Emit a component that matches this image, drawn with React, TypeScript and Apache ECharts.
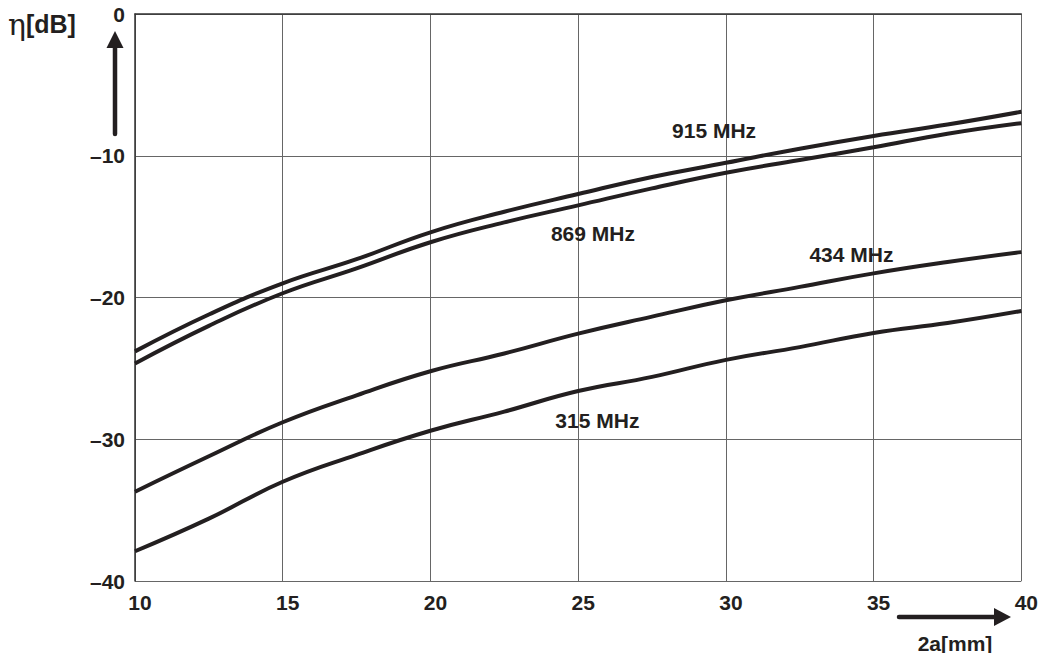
import React, { useEffect, useRef } from "react";
import * as echarts from "echarts";

const xs = [10, 12.5, 15, 17.5, 20, 22.5, 25, 27.5, 30, 32.5, 35, 37.5, 40];
const y915 = [-23.8, -21.2, -19.0, -17.3, -15.4, -13.95, -12.7, -11.5, -10.5, -9.5, -8.6, -7.8, -6.9];
const y869 = [-24.65, -22.0, -19.7, -17.95, -16.1, -14.7, -13.5, -12.3, -11.2, -10.3, -9.4, -8.45, -7.7];
const y434 = [-33.7, -31.2, -28.8, -26.9, -25.2, -23.95, -22.55, -21.35, -20.2, -19.25, -18.3, -17.5, -16.8];
const y315 = [-37.9, -35.6, -33.0, -31.1, -29.4, -28.05, -26.6, -25.6, -24.4, -23.5, -22.5, -21.8, -20.95];

const seriesNames = ["915 MHz", "869 MHz", "434 MHz", "315 MHz"];
const seriesValues = [y915, y869, y434, y315];
const labelX = [29.6, 25.5, 34.25, 25.65];
const labelY = [-8.25, -15.45, -16.95, -28.7];

const xTicks = { min: 10, max: 40, interval: 5 };
const yTicks = { min: -40, max: 0, interval: 10 };

const FONT = "'Liberation Sans', Arial, sans-serif";

export default function App() {
  const ref = useRef<HTMLDivElement>(null);
  useEffect(() => {
    if (!ref.current) return;
    const chart = echarts.init(ref.current, undefined, { renderer: "svg" });
    chart.setOption({
      animation: false,
      backgroundColor: "#ffffff",
      grid: { left: 135, top: 14, right: 19, bottom: 72 },
      xAxis: {
        type: "value",
        min: xTicks.min,
        max: xTicks.max,
        interval: xTicks.interval,
        axisLine: { show: true, lineStyle: { color: "#333", width: 1.5 } },
        axisTick: { show: false },
        splitLine: { show: true, lineStyle: { color: "#666", width: 1 } },
        axisLabel: {
          show: true,
          margin: 11,
          fontSize: 21,
          fontWeight: "bold",
          fontFamily: FONT,
          color: "#231f20",
          padding: [0, 0, 0, 10],
          showMinLabel: true,
          showMaxLabel: true,
        },
      },
      yAxis: {
        type: "value",
        min: yTicks.min,
        max: yTicks.max,
        interval: yTicks.interval,
        axisLine: { show: true, lineStyle: { color: "#333", width: 1.5 } },
        axisTick: { show: false },
        splitLine: { show: true, lineStyle: { color: "#666", width: 1 } },
        axisLabel: {
          show: true,
          margin: 10,
          fontSize: 21,
          fontWeight: "bold",
          fontFamily: FONT,
          color: "#231f20",
          showMinLabel: true,
          showMaxLabel: true,
          formatter: (v: number) => (v < 0 ? "\u2013" + Math.abs(v) : String(v)),
        },
      },
      series: seriesNames.map((name, i) => ({
        name,
        type: "line",
        smooth: 0.45,
        symbol: "none",
        data: xs.map((x, j) => [x, seriesValues[i][j]]),
        lineStyle: { color: "#231f20", width: 4 },
        markPoint: {
          symbol: "circle",
          symbolSize: 0,
          silent: true,
          data: [{ coord: [labelX[i], labelY[i]], value: name }],
          label: {
            show: true,
            position: "inside",
            formatter: "{c}",
            fontSize: 21,
            fontWeight: "bold",
            fontFamily: FONT,
            color: "#231f20",
          },
        },
      })),
      graphic: [
        {
          type: "text",
          left: 8,
          top: 9,
          style: {
            text: "{e|\u03b7}{b|[dB]}",
            rich: {
              e: { fontSize: 30, fontFamily: "'DejaVu Serif', 'Liberation Serif', serif", fill: "#231f20" },
              b: { fontSize: 25, fontWeight: "bold", fontFamily: FONT, fill: "#231f20" },
            },
          },
        },
        {
          type: "line",
          shape: { x1: 115, y1: 134, x2: 115, y2: 46 },
          style: { stroke: "#231f20", lineWidth: 4.5, lineCap: "round" },
        },
        {
          type: "polygon",
          shape: { points: [[106.5, 48], [123.5, 48], [115, 31]] },
          style: { fill: "#231f20" },
        },
        {
          type: "line",
          shape: { x1: 899, y1: 617, x2: 996, y2: 617 },
          style: { stroke: "#231f20", lineWidth: 4.5, lineCap: "round" },
        },
        {
          type: "polygon",
          shape: { points: [[994, 608], [994, 626], [1011, 617]] },
          style: { fill: "#231f20" },
        },
        {
          type: "text",
          x: 955,
          y: 643,
          style: {
            text: "2a[mm]",
            fontSize: 21,
            fontWeight: "bold",
            fontFamily: FONT,
            fill: "#231f20",
            align: "center",
            verticalAlign: "middle",
          },
        },
      ],
    });
    return () => chart.dispose();
  }, []);
  return (
    <div
      ref={ref}
      style={{ position: "absolute", left: 0, top: 0, width: 1041, height: 653 }}
    />
  );
}
